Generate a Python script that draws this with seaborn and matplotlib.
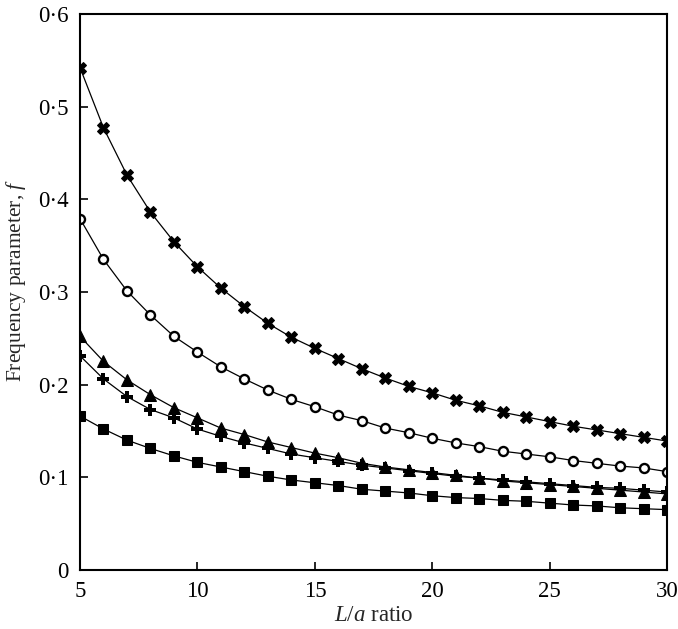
import matplotlib
matplotlib.use("Agg")
import matplotlib.pyplot as plt
import numpy as np
import pandas as pd
import seaborn as sns

# L/a ratio values
la_ratio = list(range(5, 31))

# frequency parameter for each curve
f_cross = [0.542, 0.477, 0.426, 0.386, 0.354, 0.327, 0.304, 0.284, 0.266, 0.251,
           0.239, 0.228, 0.217, 0.207, 0.198, 0.191, 0.183, 0.177, 0.170, 0.165,
           0.160, 0.155, 0.151, 0.147, 0.143, 0.139]
f_circle = [0.379, 0.335, 0.301, 0.275, 0.252, 0.235, 0.219, 0.206, 0.194, 0.184,
            0.176, 0.167, 0.161, 0.153, 0.148, 0.142, 0.137, 0.133, 0.128, 0.125,
            0.122, 0.118, 0.115, 0.112, 0.110, 0.106]
f_triangle = [0.252, 0.225, 0.205, 0.189, 0.175, 0.164, 0.153, 0.146, 0.138, 0.132,
              0.126, 0.121, 0.115, 0.111, 0.108, 0.105, 0.102, 0.099, 0.096, 0.094,
              0.092, 0.090, 0.088, 0.086, 0.084, 0.082]
f_plus = [0.231, 0.206, 0.187, 0.173, 0.164, 0.152, 0.144, 0.137, 0.131, 0.125,
          0.121, 0.117, 0.113, 0.110, 0.107, 0.104, 0.101, 0.099, 0.097, 0.095,
          0.093, 0.091, 0.089, 0.088, 0.086, 0.084]
f_square = [0.166, 0.152, 0.140, 0.131, 0.123, 0.116, 0.111, 0.106, 0.101, 0.097,
            0.094, 0.091, 0.087, 0.085, 0.083, 0.080, 0.078, 0.077, 0.075, 0.074,
            0.072, 0.070, 0.069, 0.067, 0.066, 0.065]

sns.set_style("ticks")
plt.rcParams['font.family'] = 'serif'
plt.rcParams['font.serif'] = ['Liberation Serif', 'DejaVu Serif']
plt.rcParams['mathtext.fontset'] = 'custom'
plt.rcParams['mathtext.it'] = 'Liberation Serif:italic'
plt.rcParams['mathtext.rm'] = 'Liberation Serif'

fig = plt.figure(figsize=(6.78, 6.29), dpi=100)
ax = fig.add_axes([0.118, 0.094, 0.866, 0.884])

# marker style per curve
series = [
    (f_cross, dict(marker='X', markersize=9, markerfacecolor='black')),
    (f_circle, dict(marker='o', markersize=6.5, markerfacecolor='white', markeredgewidth=1.7)),
    (f_triangle, dict(marker='^', markersize=8, markerfacecolor='black')),
    (f_plus, dict(marker='P', markersize=8, markerfacecolor='black', markeredgewidth=0)),
    (f_square, dict(marker='s', markersize=7.5, markerfacecolor='black')),
]

for vals, style in series:
    df = pd.DataFrame({'La': la_ratio, 'f': vals})
    sns.lineplot(data=df, x='La', y='f', ax=ax, color='black', linewidth=0.9,
                 markeredgecolor='black', **style)

ax.set_xlim(5, 30)
ax.set_ylim(0, 0.6)
ax.set_xticks([5, 10, 15, 20, 25, 30])
ax.set_yticks([0, 0.1, 0.2, 0.3, 0.4, 0.5, 0.6])
ax.set_yticklabels(['0', '0·1', '0·2', '0·3', '0·4', '0·5', '0·6'])
ax.tick_params(direction='in', length=6, width=1.2, labelsize=16.5, pad=8, colors='black')
for s in ax.spines.values():
    s.set_linewidth(1.5)
    s.set_color('black')

ax.set_xlabel(r'$L/a$ ratio', fontsize=16.5)
ax.set_ylabel(r'Frequency parameter, $f$', fontsize=15.5)
ax.xaxis.set_label_coords(0.5, -0.064)
ax.yaxis.set_label_coords(-0.088, 0.52)

fig.savefig('out.png', dpi=100)
